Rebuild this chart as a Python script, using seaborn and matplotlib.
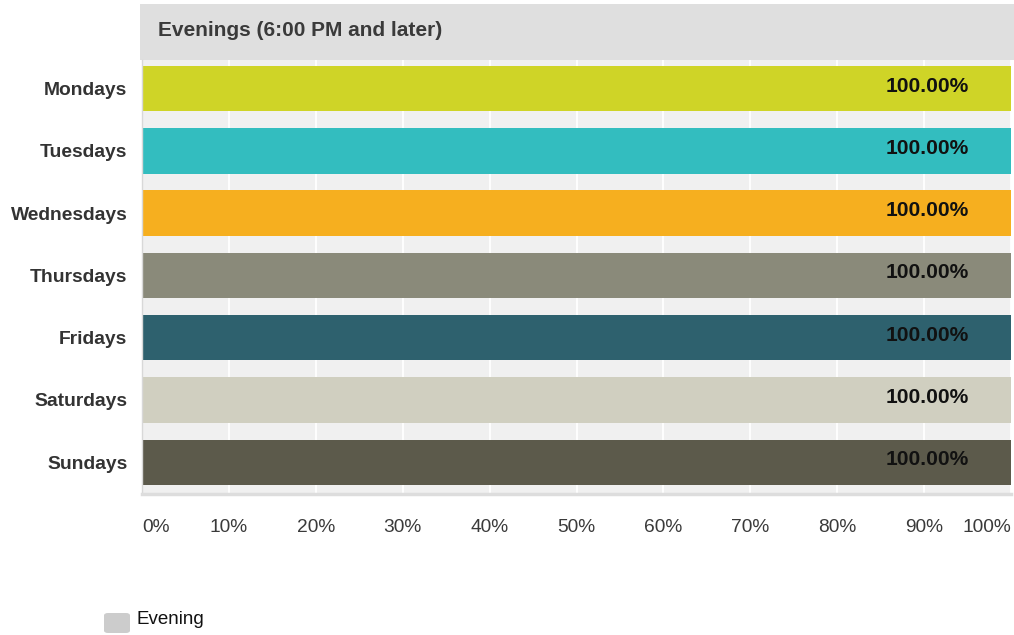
import matplotlib
matplotlib.use("Agg")
import matplotlib.pyplot as plt
from matplotlib.patches import Rectangle, FancyBboxPatch
import seaborn as sns
import pandas as pd

days = ["Mondays", "Tuesdays", "Wednesdays", "Thursdays", "Fridays", "Saturdays", "Sundays"]
evening_share = [100.0, 100.0, 100.0, 100.0, 100.0, 100.0, 100.0]
day_colors = ["#CFD427", "#33BDBF", "#F6AF1F", "#8A8A7A", "#2E616E", "#D0CFC0", "#5C5A4B"]
x_ticks = [0, 10, 20, 30, 40, 50, 60, 70, 80, 90, 100]
x_tick_labels = [f"{t}%" for t in x_ticks]
panel_title = "Evenings (6:00 PM and later)"
legend_label = "Evening"

df = pd.DataFrame({"day": days, "share": evening_share})

sns.set_theme(style="white")
plt.rcParams["font.family"] = ["Liberation Sans", "DejaVu Sans"]

W, H = 1014, 635
fig = plt.figure(figsize=(W / 100, H / 100), dpi=100)

def px_rect(x0, y0, x1, y1):
    return [x0 / W, 1 - y1 / H, (x1 - x0) / W, (y1 - y0) / H]

ax = fig.add_axes(px_rect(142, 60, 1011, 494))
ax.set_facecolor("#F0F0F0")

sns.barplot(data=df, y="day", x="share", hue="day", palette=day_colors,
            order=days, hue_order=days, dodge=False, legend=False,
            width=0.73, saturation=1, linewidth=0, ax=ax, orient="h")

ax.set_xlim(0, 100)
ax.set_ylim(6.51, -0.46)
ax.set_xticks(x_ticks)
ax.set_xticklabels(x_tick_labels)
for i, lab in enumerate(ax.get_xticklabels()):
    if i == 0:
        lab.set_horizontalalignment("left")
    elif i == len(x_ticks) - 1:
        lab.set_horizontalalignment("right")
ax.tick_params(axis="x", length=0, pad=18, labelsize=13.8, labelcolor="#3A3A3A")
ax.tick_params(axis="y", length=0, pad=10.5, labelsize=13.9, labelcolor="#333333")
for lab in ax.get_yticklabels():
    lab.set_fontweight("bold")
ax.set_xlabel("")
ax.set_ylabel("")

ax.grid(axis="x", color="white", linewidth=1.3)
ax.set_axisbelow(True)
for side in ["top", "right"]:
    ax.spines[side].set_visible(False)
ax.spines["left"].set_color("#D8D8D8")
ax.spines["left"].set_linewidth(1)
ax.spines["bottom"].set_color("#DDDDDD")
ax.spines["bottom"].set_linewidth(2.5)

for i, v in enumerate(evening_share):
    ax.text(v - 4.8, i - 0.04, f"{v:.2f}%", ha="right", va="center",
            fontsize=15.1, fontweight="bold", color="#111111")

# Header band with panel title
fig.add_artist(Rectangle((140 / W, 1 - 60 / H), (W - 140) / W, 56 / H,
                         transform=fig.transFigure, facecolor="#DFDFDF",
                         edgecolor="none", zorder=0))
fig.text(158 / W, 1 - 31 / H, panel_title, ha="left", va="center",
         fontsize=15.0, fontweight="bold", color="#3A3A3A")

# Legend
fig.add_artist(FancyBboxPatch((104 / W, 1 - 633 / H), 26 / W, 20 / H,
                              boxstyle="round,pad=0,rounding_size=0.004",
                              transform=fig.transFigure, facecolor="#CCCCCC",
                              edgecolor="none"))
fig.text(137 / W, 1 - 620 / H, legend_label, ha="left", va="center",
         fontsize=13.5, color="#111111")

fig.savefig("out.png", dpi=100)
